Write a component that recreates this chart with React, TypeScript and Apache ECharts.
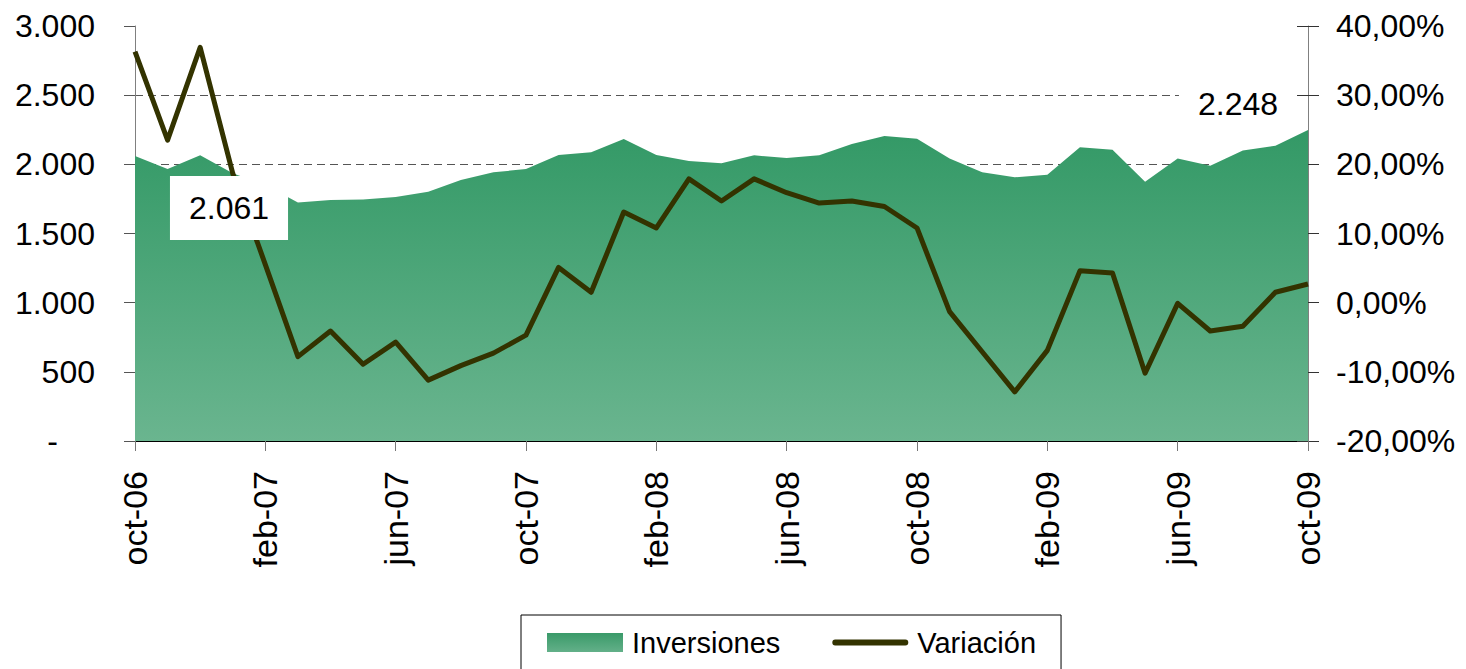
import React, { useEffect, useRef } from "react";
import * as echarts from "echarts";

const categories = [
  "oct-06", "nov-06", "dic-06", "ene-07", "feb-07", "mar-07", "abr-07", "may-07", "jun-07",
  "jul-07", "ago-07", "sep-07", "oct-07", "nov-07", "dic-07", "ene-08", "feb-08", "mar-08",
  "abr-08", "may-08", "jun-08", "jul-08", "ago-08", "sep-08", "oct-08", "nov-08", "dic-08",
  "ene-09", "feb-09", "mar-09", "abr-09", "may-09", "jun-09", "jul-09", "ago-09", "sep-09", "oct-09",
];

const inversiones = [
  2061, 1966, 2065, 1935, 1850, 1725, 1742, 1745, 1764, 1802, 1887, 1942, 1966,
  2067, 2087, 2183, 2067, 2024, 2007, 2065, 2046, 2065, 2147, 2205, 2185, 2043,
  1942, 1906, 1925, 2123, 2106, 1875, 2043, 1990, 2100, 2135, 2248,
];

const variacion = [
  36.3, 23.5, 36.9, 18.7, 5.5, -7.8, -4.1, -8.9, -5.7, -11.2, -9.1, -7.3, -4.7,
  5.1, 1.5, 13.1, 10.8, 17.9, 14.7, 17.9, 15.9, 14.4, 14.7, 13.9, 10.8, -1.3,
  -7.1, -12.9, -6.9, 4.6, 4.3, -10.2, -0.1, -4.1, -3.4, 1.5, 2.7,
];

const leftTicks = { min: 0, max: 3000, interval: 500 };
const rightTicks = { min: -20, max: 40, interval: 10 };

const FONT = "'Liberation Sans', Arial, sans-serif";

function fmtThousands(v: number): string {
  if (v === 0) return "{z|-}";
  return String(Math.round(v)).replace(/\B(?=(\d{3})+(?!\d))/g, ".");
}

function fmtPct(v: number): string {
  return v.toFixed(2).replace(".", ",") + "%";
}

export default function App() {
  const ref = useRef<HTMLDivElement>(null);

  useEffect(() => {
    if (!ref.current) return;
    const chart = echarts.init(ref.current, null, { renderer: "svg" });

    const areaGradient = new echarts.graphic.LinearGradient(0, 0, 0, 1, [
      { offset: 0, color: "#339966" },
      { offset: 1, color: "#6ab58f" },
    ]);
    const legendGradient = new echarts.graphic.LinearGradient(0, 0, 0, 1, [
      { offset: 0, color: "#3a9a69" },
      { offset: 1, color: "#63b089" },
    ]);

    const last = inversiones.length - 1;
    const labelData = inversiones.map((v, i) => {
      if (i === 0) return { value: v, label: { show: true, offset: [94, 52] } };
      if (i === last)
        return { value: v, label: { show: true, offset: [-70, -26], padding: [16, 19, 6, 19] } };
      return { value: v, label: { show: false } };
    });

    const option: any = {
      animation: false,
      backgroundColor: "#ffffff",
      textStyle: { fontFamily: FONT },
      grid: { left: 135, right: 158, top: 26, bottom: 228, containLabel: false },
      legend: {
        left: 521,
        top: 615,
        orient: "horizontal",
        padding: [13, 25, 40, 26],
        borderColor: "#000",
        borderWidth: 1,
        itemWidth: 76,
        itemHeight: 19,
        itemGap: 52,
        symbolKeepAspect: true,
        textStyle: { fontSize: 29, color: "#000", fontFamily: FONT, padding: [0, 0, 0, 4] },
        data: [
          { name: "Inversiones", icon: "rect", itemStyle: { color: legendGradient } },
          {
            name: "Variación",
            icon: "path://M3,0 L75,0 A3,3 0 0 1 75,6 L3,6 A3,3 0 0 1 3,0 Z",
            itemStyle: { color: "#333300" },
          },
        ],
      },
      xAxis: {
        type: "category",
        data: categories,
        boundaryGap: false,
        axisLine: { show: true, lineStyle: { color: "#000", width: 1 } },
        axisTick: { show: true, interval: 3, length: 10, lineStyle: { color: "#777" } },
        axisLabel: {
          interval: 3,
          rotate: 90,
          margin: 30,
          fontSize: 34,
          color: "#000",
          fontFamily: FONT,
        },
        splitLine: { show: false },
      },
      yAxis: [
        {
          type: "value",
          position: "left",
          min: leftTicks.min,
          max: leftTicks.max,
          interval: leftTicks.interval,
          axisLine: { show: true, lineStyle: { color: "#808080", width: 1 } },
          axisTick: { show: true, inside: false, length: 11, lineStyle: { color: "#555" } },
          axisLabel: {
            margin: 40,
            fontSize: 32,
            color: "#000",
            fontFamily: FONT,
            formatter: fmtThousands,
            rich: { z: { fontSize: 32, color: "#000", fontFamily: FONT, padding: [0, 37, 0, 0] } },
          },
          splitLine: {
            show: true,
            showMinLine: false,
            showMaxLine: false,
            lineStyle: { color: "#555", type: [8, 5], width: 1 },
          },
        },
        {
          type: "value",
          position: "right",
          min: rightTicks.min,
          max: rightTicks.max,
          interval: rightTicks.interval,
          axisLine: { show: true, lineStyle: { color: "#808080", width: 1 } },
          axisTick: { show: true, inside: false, length: 11, lineStyle: { color: "#333" } },
          axisLabel: {
            margin: 28,
            fontSize: 32,
            color: "#000",
            fontFamily: FONT,
            formatter: fmtPct,
          },
          splitLine: { show: false },
        },
        {
          type: "value",
          position: "right",
          min: rightTicks.min,
          max: rightTicks.max,
          interval: rightTicks.interval,
          axisLine: { show: false },
          axisTick: { show: true, inside: true, length: 11, lineStyle: { color: "#333" } },
          axisLabel: { show: false },
          splitLine: { show: false },
        },
      ],
      series: [
        {
          name: "Inversiones",
          type: "line",
          yAxisIndex: 0,
          data: inversiones,
          symbol: "none",
          lineStyle: { width: 0 },
          itemStyle: { color: "#339966" },
          areaStyle: { color: areaGradient, opacity: 1 },
          z: 2,
        },
        {
          name: "Variación",
          type: "line",
          yAxisIndex: 1,
          data: variacion,
          symbol: "none",
          itemStyle: { color: "#333300" },
          lineStyle: { color: "#333300", width: 5, join: "round" },
          z: 3,
        },
        {
          name: "etiquetas",
          type: "line",
          yAxisIndex: 0,
          data: labelData,
          symbol: "circle",
          symbolSize: 1,
          showSymbol: true,
          showAllSymbol: true,
          silent: true,
          itemStyle: { color: "transparent" },
          lineStyle: { width: 0, opacity: 0 },
          label: {
            position: "inside",
            formatter: (p: any) => fmtThousands(p.value),
            backgroundColor: "#ffffff",
            padding: [16, 19],
            fontSize: 32,
            color: "#000",
            fontFamily: FONT,
          },
          z: 10,
        },
      ],
    };

    chart.setOption(option);
    return () => chart.dispose();
  }, []);

  return (
    <div
      ref={ref}
      style={{ position: "fixed", left: 0, top: 0, width: 1466, height: 669, background: "#fff" }}
    />
  );
}
